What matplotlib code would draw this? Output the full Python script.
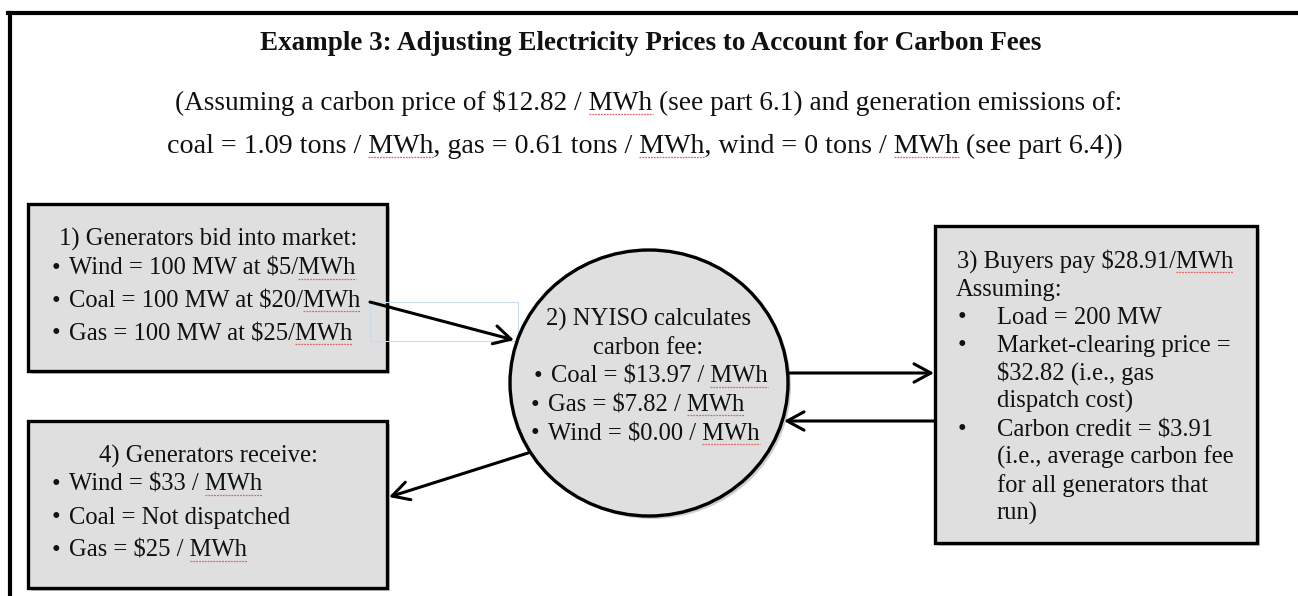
import matplotlib.pyplot as plt
from matplotlib.patches import Rectangle, Ellipse

plt.rcParams['font.family'] = ['Liberation Serif', 'DejaVu Serif']
plt.rcParams['text.parse_math'] = False

# ---- text content of the diagram ----
title = 'Example 3: Adjusting Electricity Prices to Account for Carbon Fees'
subLines = ['(Assuming a carbon price of $12.82 / MWh (see part 6.1) and generation emissions of:',
            'coal = 1.09 tons / MWh, gas = 0.61 tons / MWh, wind = 0 tons / MWh (see part 6.4))']

bidHead = '1) Generators bid into market:'
bidLines = ['Wind = 100 MW at $5/MWh',
            'Coal = 100 MW at $20/MWh',
            'Gas = 100 MW at $25/MWh']

feeHead = ['2) NYISO calculates', 'carbon fee:']
feeLines = ['Coal = $13.97 / MWh',
            'Gas = $7.82 / MWh',
            'Wind = $0.00 / MWh']

buyHead = ['3) Buyers pay $28.91/MWh', 'Assuming:']
buyBullets = [['Load = 200 MW'],
              ['Market-clearing price =', '$32.82 (i.e., gas', 'dispatch cost)'],
              ['Carbon credit = $3.91', '(i.e., average carbon fee', 'for all generators that', 'run)']]

recvHead = '4) Generators receive:'
recvLines = ['Wind = $33 / MWh',
             'Coal = Not dispatched',
             'Gas = $25 / MWh']

W, H = 1298, 596
BOXFILL = '#dfdfdf'
FS = 17.7

fig = plt.figure(figsize=(W / 100, H / 100), dpi=100)
ax = fig.add_axes([0, 0, 1, 1])
ax.set_xlim(0, W)
ax.set_ylim(H, 0)
ax.axis('off')
renderer = fig.canvas.get_renderer()


def textWidth(s, size, weight='normal'):
    t = ax.text(0, 0, s, fontsize=size, fontweight=weight)
    w = t.get_window_extent(renderer).width
    t.remove()
    return w


def putText(x, y, s, ha='left', size=FS, weight='normal'):
    ax.text(x, y, s, ha=ha, va='baseline', fontsize=size, fontweight=weight, color='#111111')
    # red spell-check squiggle under every MWh
    if 'MWh' in s:
        full = textWidth(s, size, weight)
        left = x - full / 2 if ha == 'center' else x
        start = 0
        while True:
            i = s.find('MWh', start)
            if i < 0:
                break
            x0 = left + textWidth(s[:i], size, weight) if i > 0 else left
            x1 = left + textWidth(s[:i + 3], size, weight)
            ax.plot([x0, x1], [y + 3.5, y + 3.5], color='#e06666', lw=0.9, ls=(0, (1.5, 0.8)))
            start = i + 3


def drawBox(x0, y0, x1, y1):
    ax.add_patch(Rectangle((x0 + 3, y0 + 3), x1 - x0, y1 - y0, fc='#888888', ec='none', alpha=0.45))
    ax.add_patch(Rectangle((x0, y0), x1 - x0, y1 - y0, fc=BOXFILL, ec='black', lw=2.4))


def arrow(x0, y0, x1, y1):
    ax.annotate('', xy=(x1, y1), xytext=(x0, y0),
                arrowprops=dict(arrowstyle='->, head_length=0.55, head_width=0.3',
                                lw=2.2, color='black', mutation_scale=22,
                                shrinkA=0, shrinkB=0))


# outer frame (top and left edges)
ax.plot([8, W], [13, 13], color='black', lw=3)
ax.plot([10, 10], [13, H], color='black', lw=3)

# headings
putText(651, 50, title, ha='center', size=19.5, weight='bold')
putText(649, 110, subLines[0], ha='center', size=19.6)
putText(645, 153, subLines[1], ha='center', size=20.2)

# box 1
drawBox(28, 204, 387, 371)
putText(208, 246, bidHead, ha='center')
for i, line in enumerate(bidLines):
    y = 275 + i * 32.5
    putText(52, y, '\u2022')
    putText(69, y, line)

# faint text-box outline left behind near the first arrow
ax.add_patch(Rectangle((370, 302), 148, 39, fc='none', ec='#c9dcef', lw=0.8))

# circle
ax.add_patch(Ellipse((652, 386), 278, 266, fc='#888888', ec='none', alpha=0.4))
ax.add_patch(Ellipse((649, 383), 278, 266, fc=BOXFILL, ec='black', lw=2.4))
putText(648, 326, feeHead[0], ha='center')
putText(648, 354, feeHead[1], ha='center')
feeX = [551, 548, 548]
for i, line in enumerate(feeLines):
    y = 383 + i * 28.5
    putText(feeX[i] - 17, y, '\u2022')
    putText(feeX[i], y, line)

# box 3
drawBox(935, 226, 1257, 543)
putText(957, 268, buyHead[0])
putText(956, 296, buyHead[1])
row = 0
for group in buyBullets:
    for j, line in enumerate(group):
        y = 324 + row * 28
        if j == 0:
            putText(958, y, '\u2022')
        putText(997, y, line)
        row += 1

# box 4
drawBox(28, 421, 387, 588)
putText(208, 463, recvHead, ha='center')
for i, line in enumerate(recvLines):
    y = 491 + i * 33
    putText(52, y, '\u2022')
    putText(69, y, line)

# arrows
arrow(370, 302, 514, 340)
arrow(789, 373, 934, 373)
arrow(935, 421, 784, 421)
arrow(528, 453, 389, 497)

fig.savefig('out.png', dpi=100)
